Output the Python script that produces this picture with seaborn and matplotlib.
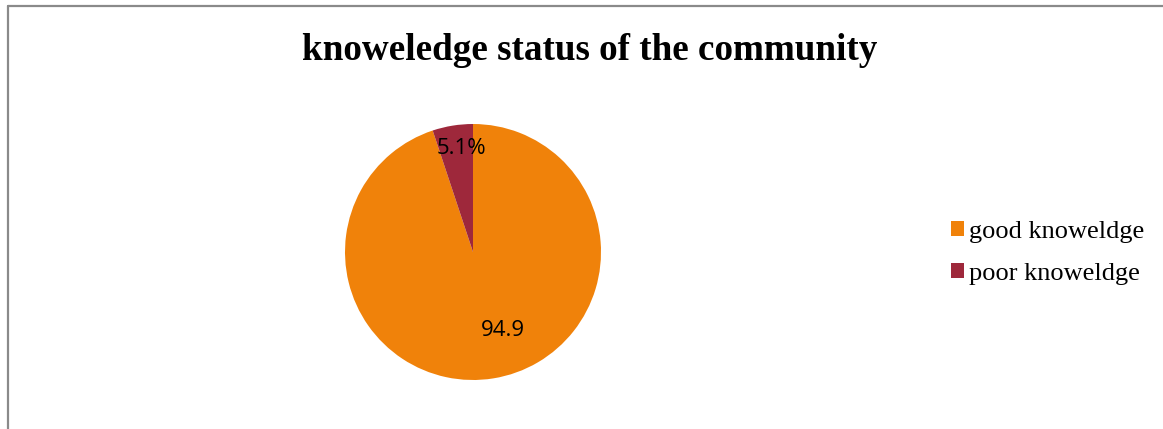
import numpy as np
import matplotlib
matplotlib.use("Agg")
import matplotlib.pyplot as plt
import seaborn as sns
from matplotlib.lines import Line2D
from matplotlib.patches import Patch

categories = ["good knoweldge", "poor knoweldge"]
values = [94.9, 5.1]
value_labels = ["94.9", "5.1%"]
colors = ["#F0820A", "#9E283B"]

sns.set_theme(style="white")
plt.rcParams["font.family"] = ["Liberation Serif", "DejaVu Serif"]
plt.rcParams["text.color"] = "black"

fig = plt.figure(figsize=(11.63, 4.29), dpi=100)
fig.patch.set_facecolor("white")

# chart frame (top and left edges visible)
fig.add_artist(Line2D([8 / 1163, 8 / 1163], [0, 1 - 6 / 429], transform=fig.transFigure,
                      color="#8a8a8a", lw=1.6))
fig.add_artist(Line2D([8 / 1163, 1], [1 - 6 / 429, 1 - 6 / 429], transform=fig.transFigure,
                      color="#8a8a8a", lw=1.6))

fig.text(590 / 1163, 1 - 50 / 429, "knoweledge status of the community",
         ha="center", va="center", fontsize=26.7, fontweight="bold", color="black")

cx, cy, r = 473, 252, 128
ax = fig.add_axes([(cx - r) / 1163, 1 - (cy + r) / 429, 2 * r / 1163, 2 * r / 429])
wedges, _ = ax.pie(values, colors=colors, startangle=90, counterclock=False,
                   radius=1.0, wedgeprops=dict(linewidth=0))
ax.set_xlim(-1, 1)
ax.set_ylim(-1, 1)
ax.set_aspect("equal")
ax.axis("off")

# value labels placed inside each wedge
offsets = [(0.23, -0.61), (-0.09, 0.81)]
for w, lab, (dx, dy) in zip(wedges, value_labels, offsets):
    ax.text(dx, dy, lab, ha="center", va="center", fontsize=16,
            family=["Open Sans", "DejaVu Sans"], color="black")

handles = [Patch(facecolor=c, edgecolor="none") for c in colors]
fig.legend(handles, categories, loc="center left",
           bbox_to_anchor=(940 / 1163, 1 - 253 / 429), frameon=False,
           fontsize=19, handlelength=0.5, handleheight=0.5, handletextpad=0.2,
           labelspacing=0.75, borderaxespad=0, labelcolor="black")

fig.savefig("out.png", dpi=100, facecolor="white")
